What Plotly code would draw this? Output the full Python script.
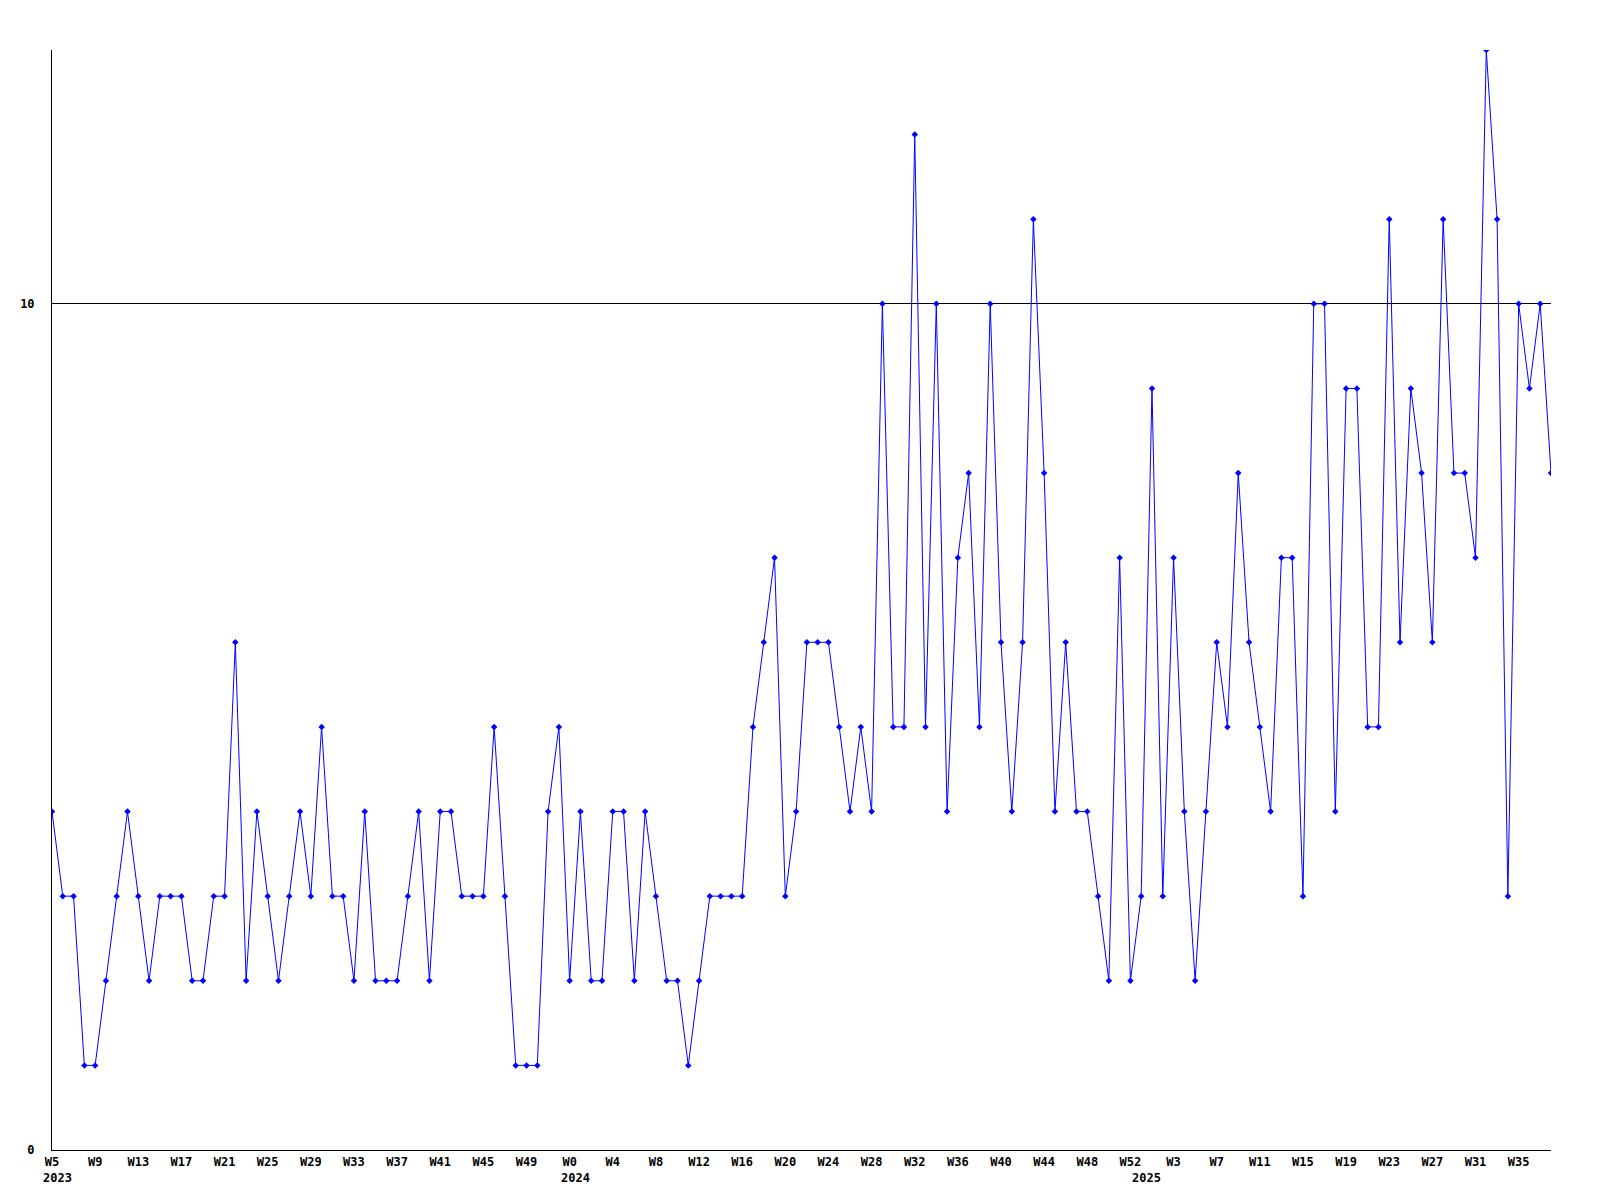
import plotly.graph_objects as go

# Weekly values (W5 2023 .. W38 2025)
values_2023 = [4, 3, 3, 1, 1, 2, 3, 4, 3, 2, 3, 3, 3, 2, 2, 3, 3, 6, 2, 4, 3, 2, 3, 4,
               3, 5, 3, 3, 2, 4, 2, 2, 2, 3, 4, 2, 4, 4, 3, 3, 3, 5, 3, 1, 1, 1, 4, 5]
values_2024 = [2, 4, 2, 2, 4, 4, 2, 4, 3, 2, 2, 1, 2, 3, 3, 3, 3, 5, 6, 7, 3, 4, 6, 6,
               6, 5, 4, 5, 4, 10, 5, 5, 12, 5, 10, 4, 7, 8, 5, 10, 6, 4, 6, 11, 8, 4, 6, 4,
               4, 3, 2, 7, 2]
values_2025 = [3, 9, 3, 7, 4, 2, 4, 6, 5, 8, 6, 5, 4, 7, 7, 3, 10, 10, 4, 9, 9, 5, 5, 11,
               6, 9, 8, 6, 11, 8, 8, 7, 13, 11, 3, 10, 9, 10, 8]

weeks_2023 = list(range(5, 53))
weeks_2024 = list(range(0, 53))
weeks_2025 = list(range(0, 39))

week_labels = ([f"W{w}" for w in weeks_2023] + [f"W{w}" for w in weeks_2024]
               + [f"W{w}" for w in weeks_2025])
values = values_2023 + values_2024 + values_2025
years = ["2023", "2024", "2025"]
year_starts = [0, len(values_2023), len(values_2023) + len(values_2024)]

x = list(range(len(values)))
tickvals = x[::4]
ticktext = [week_labels[i] for i in tickvals]

font = dict(family="DejaVu Sans Mono", size=12, color="black", weight="bold")

fig = go.Figure()
fig.add_trace(go.Scatter(
    x=x, y=values, mode="lines+markers",
    line=dict(color="#0000ff", width=1),
    marker=dict(symbol="diamond", size=5, color="#0000ff"),
    hoverinfo="skip",
))

for yr, idx in zip(years, year_starts):
    fig.add_annotation(x=idx, y=0, xref="x", yref="paper", text=yr,
                       showarrow=False, xanchor="left", yanchor="top",
                       xshift=-11, yshift=-19, font=font)

fig.update_layout(
    width=1600, height=1200,
    margin=dict(l=42, r=57, t=42, b=58),
    paper_bgcolor="white", plot_bgcolor="white",
    showlegend=False,
)
fig.update_xaxes(
    range=[0, len(values) - 1], tickvals=tickvals, ticktext=ticktext,
    tickangle=0, showgrid=False, zeroline=False,
    showline=True, linecolor="black", linewidth=1,
    ticks="outside", ticklen=1, tickcolor="rgba(0,0,0,0)",
    tickfont=font,
)
fig.update_yaxes(
    range=[0, 13], tickvals=[0, 10], ticktext=["0", "10"],
    showgrid=True, gridcolor="black", gridwidth=1, zeroline=False,
    showline=True, linecolor="black", linewidth=1,
    ticks="outside", ticklen=14, tickcolor="rgba(0,0,0,0)",
    tickfont=font,
)

fig.write_html("out.html")
